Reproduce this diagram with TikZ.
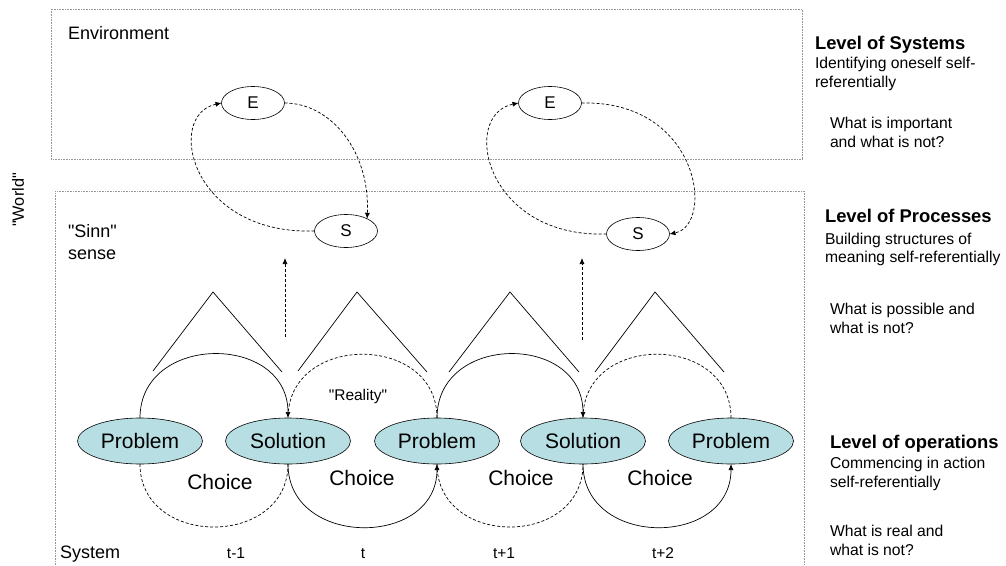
\documentclass[tikz,border=0pt]{standalone}
\usepackage{fontspec}
\setmainfont{Liberation Sans}[Ligatures=TeXOff]
\usetikzlibrary{arrows.meta,shapes.geometric}
\definecolor{fillteal}{RGB}{183,222,226}
\definecolor{boxgray}{RGB}{150,150,150}
\begin{document}
\begin{tikzpicture}[x=1pt,y=-1pt,
  every node/.style={inner sep=0pt, outer sep=0pt},
  ps/.style={ellipse, draw, fill=fillteal, minimum width=125pt, minimum height=46pt, font=\fontsize{21}{25}\selectfont, line width=0.6pt},
  es/.style={ellipse, draw, minimum width=63pt, minimum height=33pt, font=\fontsize{17}{20}\selectfont, line width=0.6pt},
  conn/.style={line width=0.7pt},
  dconn/.style={line width=0.7pt, dash pattern=on 3pt off 2pt},
  tip/.style={-{Latex[length=6pt,width=5pt]}},
  frame/.style={draw=boxgray, line width=0.8pt, dash pattern=on 0.8pt off 0.8pt},
  lbl/.style={anchor=base west, font=\fontsize{15.7}{18}\selectfont},
  bigl/.style={anchor=base west, font=\fontsize{18}{21}\selectfont},
  head/.style={anchor=base west, font=\fontsize{18.4}{21}\selectfont\bfseries},
  clbl/.style={anchor=base, font=\fontsize{15.5}{18}\selectfont},
  chl/.style={anchor=base, font=\fontsize{21}{25}\selectfont},
  roof/.style={line width=0.7pt}
]
\useasboundingbox (0,0) rectangle (1006,565);

% frames
\draw[frame] (51,9) rectangle (802,159);
\draw[frame] (55,565) -- (55,191) -- (804,191) -- (804,565);

% world
\node[rotate=90, font=\fontsize{16.3}{19}\selectfont] (world) at (18,200) {"World"};

% left labels
\node[bigl] (env) at (68,39) {Environment};
\node[bigl] (sinn) at (68,237) {"Sinn"};
\node[bigl] (sense) at (68,259) {sense};
\node[bigl] (system) at (60,558) {System};

% time labels
\node[clbl] (t1) at (236,558) {t-1};
\node[clbl] (t2) at (363,558) {t};
\node[clbl] (t3) at (504,558) {t+1};
\node[clbl] (t4) at (663,558) {t+2};

% right column
\node[head] (h1) at (815,49) {Level of Systems};
\node[lbl] (h1a) at (815,68) {Identifying oneself self-};
\node[lbl] (h1b) at (815,87) {referentially};
\node[lbl] (q1a) at (830,128) {What is important};
\node[lbl] (q1b) at (830,147) {and what is not?};
\node[head] (h2) at (825,222) {Level of Processes};
\node[lbl] (h2a) at (825,244) {Building structures of};
\node[lbl] (h2b) at (825,262) {meaning self-referentially};
\node[lbl] (q2a) at (830,314) {What is possible and};
\node[lbl] (q2b) at (830,333) {what is not?};
\node[head] (h3) at (830,448) {Level of operations};
\node[lbl] (h3a) at (830,468) {Commencing in action};
\node[lbl] (h3b) at (830,487) {self-referentially};
\node[lbl] (q3a) at (830,536) {What is real and};
\node[lbl] (q3b) at (830,555) {what is not?};

% E / S nodes
\node[es] (E1) at (253,103) {E};
\node[es] (S1) at (346,231) {S};
\node[es] (E2) at (550,103) {E};
\node[es] (S2) at (638,234) {S};

\draw[dconn,tip] (S1.west) .. controls (190,235) and (165,115) .. (E1.west);
\draw[dconn,tip] (E1.east) .. controls (330,103) and (370,150) .. (S1.30);
\draw[dconn,tip] (S2.west) .. controls (485,238) and (460,115) .. (E2.west);
\draw[dconn,tip] (E2.east) .. controls (700,100) and (715,225) .. (S2.east);

% vertical arrows
\coordinate (v1a) at (285,337);
\coordinate (v1b) at (285,258);
\coordinate (v2a) at (582,340);
\coordinate (v2b) at (582,258);
\draw[dconn,tip] (v1a) -- (v1b);
\draw[dconn,tip] (v2a) -- (v2b);

% roofs
\draw[roof] (153,371) -- (213,292) -- (282,372);
\draw[roof] (298,371) -- (357,292) -- (427,372);
\draw[roof] (449,372) -- (510,292) -- (579,372);
\draw[roof] (595,372) -- (655,292) -- (724,372);

% problem / solution nodes
\node[ps] (P1) at (140,441) {Problem};
\node[ps] (So1) at (288,441) {Solution};
\node[ps] (P2) at (437,441) {Problem};
\node[ps] (So2) at (583,441) {Solution};
\node[ps] (P3) at (731,441) {Problem};

% upper arcs
\draw[conn,tip] (P1.north) .. controls +(0,-85) and +(0,-85) .. (So1.north);
\draw[dconn] (P2.north) .. controls +(0,-85) and +(0,-85) .. (So1.north);
\draw[conn,tip] (P2.north) .. controls +(0,-85) and +(0,-85) .. (So2.north);
\draw[dconn] (P3.north) .. controls +(0,-85) and +(0,-85) .. (So2.north);

% lower arcs
\draw[dconn] (P1.south) .. controls +(0,84) and +(0,84) .. (So1.south);
\draw[conn,tip] (So1.south) .. controls +(0,84) and +(0,84) .. (P2.south);
\draw[dconn] (P2.south) .. controls +(0,84) and +(0,84) .. (So2.south);
\draw[conn,tip] (So2.south) .. controls +(0,84) and +(0,84) .. (P3.south);

% labels in the chain
\node[clbl] (reality) at (358,400) {"Reality"};
\node[chl] (c1) at (220,489) {Choice};
\node[chl] (c2) at (362,485) {Choice};
\node[chl] (c3) at (521,485) {Choice};
\node[chl] (c4) at (660,485) {Choice};
\end{tikzpicture}
\end{document}
